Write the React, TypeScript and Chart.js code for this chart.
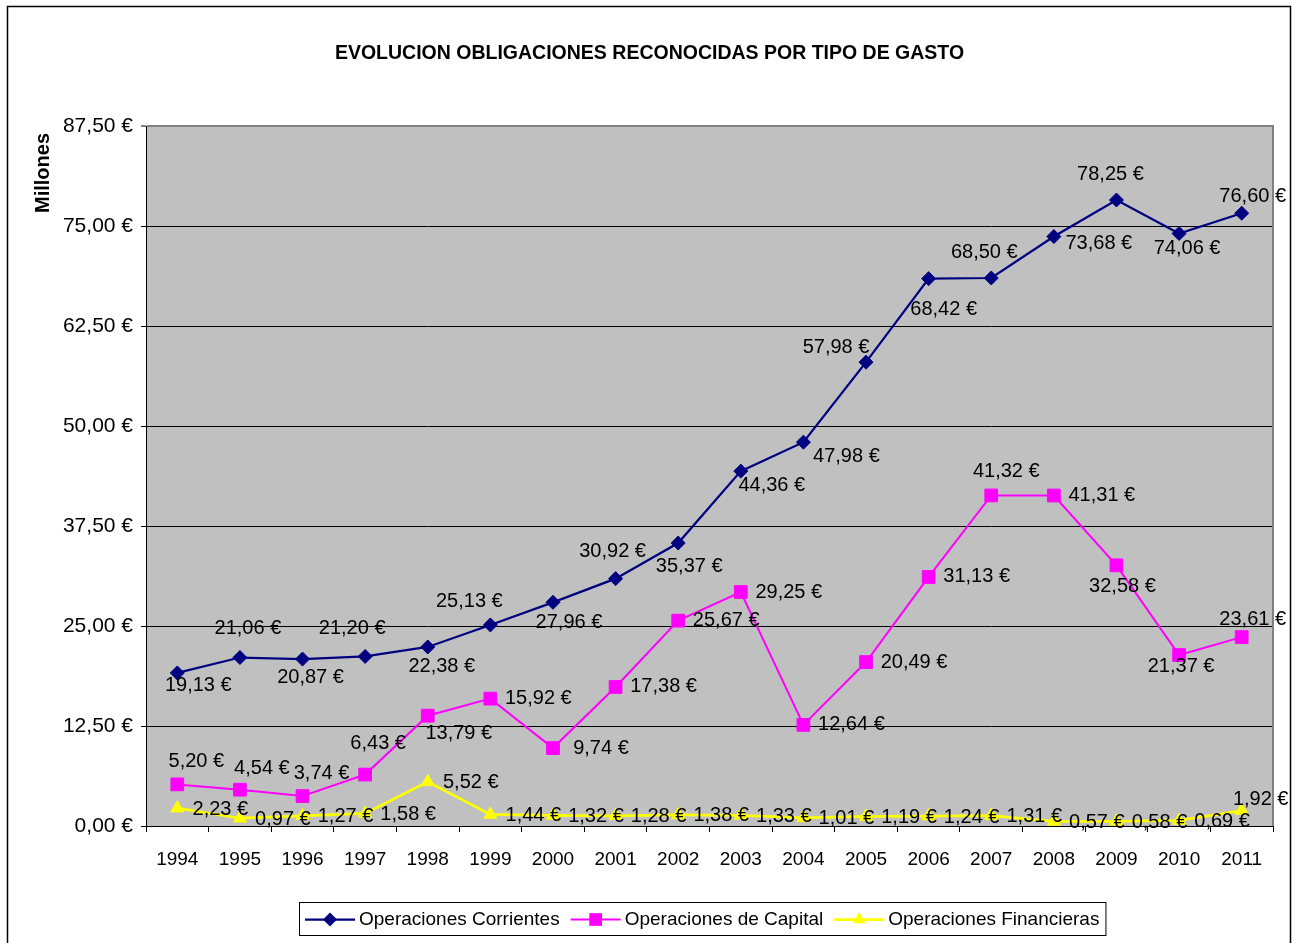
import React, { useEffect, useRef } from 'react';
import { Chart, registerables } from 'chart.js';

Chart.register(...registerables);

const chartTitle = 'EVOLUCION OBLIGACIONES RECONOCIDAS POR TIPO DE GASTO';
const yAxisTitle = 'Millones';
const years = ['1994', '1995', '1996', '1997', '1998', '1999', '2000', '2001', '2002', '2003', '2004', '2005', '2006', '2007', '2008', '2009', '2010', '2011'];
const seriesNames = ['Operaciones Corrientes', 'Operaciones de Capital', 'Operaciones Financieras'];
const corrientes = [19.13, 21.06, 20.87, 21.2, 22.38, 25.13, 27.96, 30.92, 35.37, 44.36, 47.98, 57.98, 68.42, 68.5, 73.68, 78.25, 74.06, 76.6];
const capital = [5.2, 4.54, 3.74, 6.43, 13.79, 15.92, 9.74, 17.38, 25.67, 29.25, 12.64, 20.49, 31.13, 41.32, 41.31, 32.58, 21.37, 23.61];
const financieras = [2.23, 0.97, 1.27, 1.58, 5.52, 1.44, 1.32, 1.28, 1.38, 1.33, 1.01, 1.19, 1.24, 1.31, 0.57, 0.58, 0.69, 1.92];
const yTickValues = [0, 12.5, 25, 37.5, 50, 62.5, 75, 87.5];

// label placement: offset of the label centre from its point (dx, dy)
const corrLabelPos: [number, number][] = [
  [21, 13], [8, -29], [8, 18], [-13, -28], [14, 20], [-21, -23], [16, 20], [-3, -27], [11, 23],
  [31, 14], [43, 14], [-30, -15], [15, 31], [-7, -26], [45, 7], [-6, -26], [8, 15], [11, -17],
];
const R_CAP: [number, number] = [48, 0];
const capLabelPos: [number, number][] = [
  [19, -23], [22, -21], [19, -23], [13, -31], [31, 18], R_CAP, R_CAP, R_CAP, R_CAP,
  R_CAP, R_CAP, R_CAP, R_CAP, [15, -24], R_CAP, [6, 21], [2, 11], [11, -18],
];
const R_FIN: [number, number] = [43, 1];
const finLabelPos: [number, number][] = [
  R_FIN, R_FIN, R_FIN, R_FIN, R_FIN, R_FIN, R_FIN, R_FIN, R_FIN,
  R_FIN, R_FIN, R_FIN, R_FIN, R_FIN, R_FIN, R_FIN, R_FIN, [19, -11],
];

const FONT = '"Liberation Sans", Arial, Helvetica, sans-serif';
const NAVY = '#000080';
const MAGENTA = '#FF00FF';
const YELLOW = '#FFFF00';
const PLOT_BG = '#C0C0C0';

const fmt = (v: number) => v.toFixed(2).replace('.', ',') + ' €';

function drawMarker(ctx: CanvasRenderingContext2D, style: string, x: number, y: number, r: number, color: string) {
  ctx.save();
  ctx.fillStyle = color;
  ctx.beginPath();
  if (style === 'rectRot') {
    ctx.moveTo(x, y - r);
    ctx.lineTo(x + r, y);
    ctx.lineTo(x, y + r);
    ctx.lineTo(x - r, y);
  } else if (style === 'rect') {
    const s = Math.SQRT1_2 * r;
    ctx.rect(x - s, y - s, 2 * s, 2 * s);
  } else {
    ctx.moveTo(x, y - r);
    ctx.lineTo(x + r * Math.sin((2 * Math.PI) / 3), y - r * Math.cos((2 * Math.PI) / 3));
    ctx.lineTo(x + r * Math.sin((4 * Math.PI) / 3), y - r * Math.cos((4 * Math.PI) / 3));
  }
  ctx.closePath();
  ctx.fill();
  ctx.restore();
}

const labelPositions = [corrLabelPos, capLabelPos, finLabelPos];

const decor = {
  id: 'decor',
  beforeDraw(chart: any) {
    const { ctx, chartArea } = chart;
    ctx.save();
    ctx.fillStyle = '#FFFFFF';
    ctx.fillRect(0, 0, chart.width, chart.height);
    ctx.fillStyle = PLOT_BG;
    ctx.fillRect(chartArea.left, chartArea.top, chartArea.right - chartArea.left, chartArea.bottom - chartArea.top);
    ctx.restore();
  },
  beforeDatasetsDraw(chart: any) {
    const { ctx, chartArea } = chart;
    ctx.save();
    ctx.strokeStyle = '#808080';
    ctx.lineWidth = 2;
    ctx.beginPath();
    ctx.moveTo(chartArea.right, chartArea.top - 1);
    ctx.lineTo(chartArea.right, chartArea.bottom);
    ctx.stroke();
    ctx.restore();
  },
  afterDatasetsDraw(chart: any) {
    const { ctx } = chart;
    ctx.save();
    ctx.font = `20px ${FONT}`;
    ctx.fillStyle = '#000';
    ctx.textAlign = 'center';
    ctx.textBaseline = 'middle';
    chart.data.datasets.forEach((ds: any, di: number) => {
      const meta = chart.getDatasetMeta(di);
      meta.data.forEach((pt: any, i: number) => {
        const [dx, dy] = labelPositions[di][i];
        ctx.fillText(fmt(ds.data[i]), pt.x + dx, pt.y + dy);
      });
    });
    ctx.restore();
  },
  afterDraw(chart: any) {
    const { ctx } = chart;
    ctx.save();
    // outer border
    ctx.strokeStyle = '#000';
    ctx.lineWidth = 1.5;
    ctx.strokeRect(7.5, 6.5, 1283, 1000);
    // title
    ctx.fillStyle = '#000';
    ctx.font = `bold 19.5px ${FONT}`;
    ctx.textAlign = 'center';
    ctx.textBaseline = 'middle';
    ctx.fillText(chartTitle, 649.5, 53.5);
    // y axis title
    ctx.save();
    ctx.translate(43, 173);
    ctx.rotate(-Math.PI / 2);
    ctx.font = `bold 20px ${FONT}`;
    ctx.fillText(yAxisTitle, 0, 0);
    ctx.restore();
    // legend
    const boxLeft = 299, boxTop = 902, boxBottom = 935;
    const cy = (boxTop + boxBottom) / 2 + 1;
    ctx.font = `19px ${FONT}`;
    ctx.textAlign = 'left';
    let x = boxLeft + 6;
    chart.data.datasets.forEach((ds: any, di: number) => {
      ctx.strokeStyle = ds.borderColor;
      ctx.lineWidth = ds.borderWidth;
      ctx.beginPath();
      ctx.moveTo(x, cy);
      ctx.lineTo(x + 50, cy);
      ctx.stroke();
      drawMarker(ctx, ds.pointStyle, x + 25, cy, ds.pointRadius, ds.backgroundColor);
      x += 54;
      ctx.fillStyle = '#000';
      ctx.fillText(seriesNames[di], x, cy);
      x += ctx.measureText(seriesNames[di]).width + 11;
    });
    const boxRight = x - 5;
    ctx.strokeStyle = '#000';
    ctx.lineWidth = 1;
    ctx.strokeRect(boxLeft + 0.5, boxTop + 0.5, boxRight - boxLeft, boxBottom - boxTop);
    ctx.restore();
  },
};

export default function App() {
  const ref = useRef<HTMLCanvasElement>(null);
  useEffect(() => {
    const canvas = ref.current!;
    const chart = new Chart(canvas, {
      type: 'line',
      data: {
        labels: years,
        datasets: [
          {
            label: seriesNames[0], data: corrientes, borderColor: NAVY, backgroundColor: NAVY,
            pointStyle: 'rectRot', pointRadius: 7, pointBorderWidth: 1, borderWidth: 2.25, tension: 0,
          },
          {
            label: seriesNames[1], data: capital, borderColor: MAGENTA, backgroundColor: MAGENTA,
            pointStyle: 'rect', pointRadius: 9, pointBorderWidth: 1, borderWidth: 2, tension: 0,
          },
          {
            label: seriesNames[2], data: financieras, borderColor: YELLOW, backgroundColor: YELLOW,
            pointStyle: 'triangle', pointRadius: 7.5, pointBorderWidth: 1, borderWidth: 2.75, tension: 0,
          },
        ],
      } as any,
      options: {
        responsive: false,
        animation: false,
        devicePixelRatio: 1,
        events: [],
        layout: { padding: { top: 126, right: 19, left: 0, bottom: 0 } },
        plugins: { legend: { display: false }, title: { display: false }, tooltip: { enabled: false } },
        scales: {
          x: {
            type: 'category',
            offset: true,
            grid: { display: true, drawOnChartArea: false, drawTicks: true, tickLength: 6, offset: true, color: '#000' },
            border: { display: true, color: '#000', width: 1 },
            ticks: { color: '#000', font: { family: FONT, size: 19 }, padding: 16, autoSkip: false, maxRotation: 0 },
            afterFit: (s: any) => { s.height = 117; },
          },
          y: {
            min: 0,
            max: 87.5,
            afterBuildTicks: (s: any) => { s.ticks = yTickValues.map((v) => ({ value: v })); },
            ticks: { color: '#000', font: { family: FONT, size: 21 }, padding: 8, callback: (v: any) => fmt(Number(v)) },
            grid: {
              color: (c: any) => (c.tick && c.tick.value === 87.5 ? '#808080' : '#000'),
              lineWidth: (c: any) => (c.tick && c.tick.value === 87.5 ? 2 : 1),
              tickLength: 5,
              drawTicks: true,
            },
            border: { display: true, color: '#000', width: 1 },
            afterFit: (s: any) => { s.width = 146; },
          },
        },
      } as any,
      plugins: [decor],
    });
    return () => chart.destroy();
  }, []);
  return (
    <div style={{ position: 'absolute', left: 0, top: 0, width: 1292, height: 943 }}>
      <canvas ref={ref} width={1292} height={943} style={{ display: 'block' }} />
    </div>
  );
}
